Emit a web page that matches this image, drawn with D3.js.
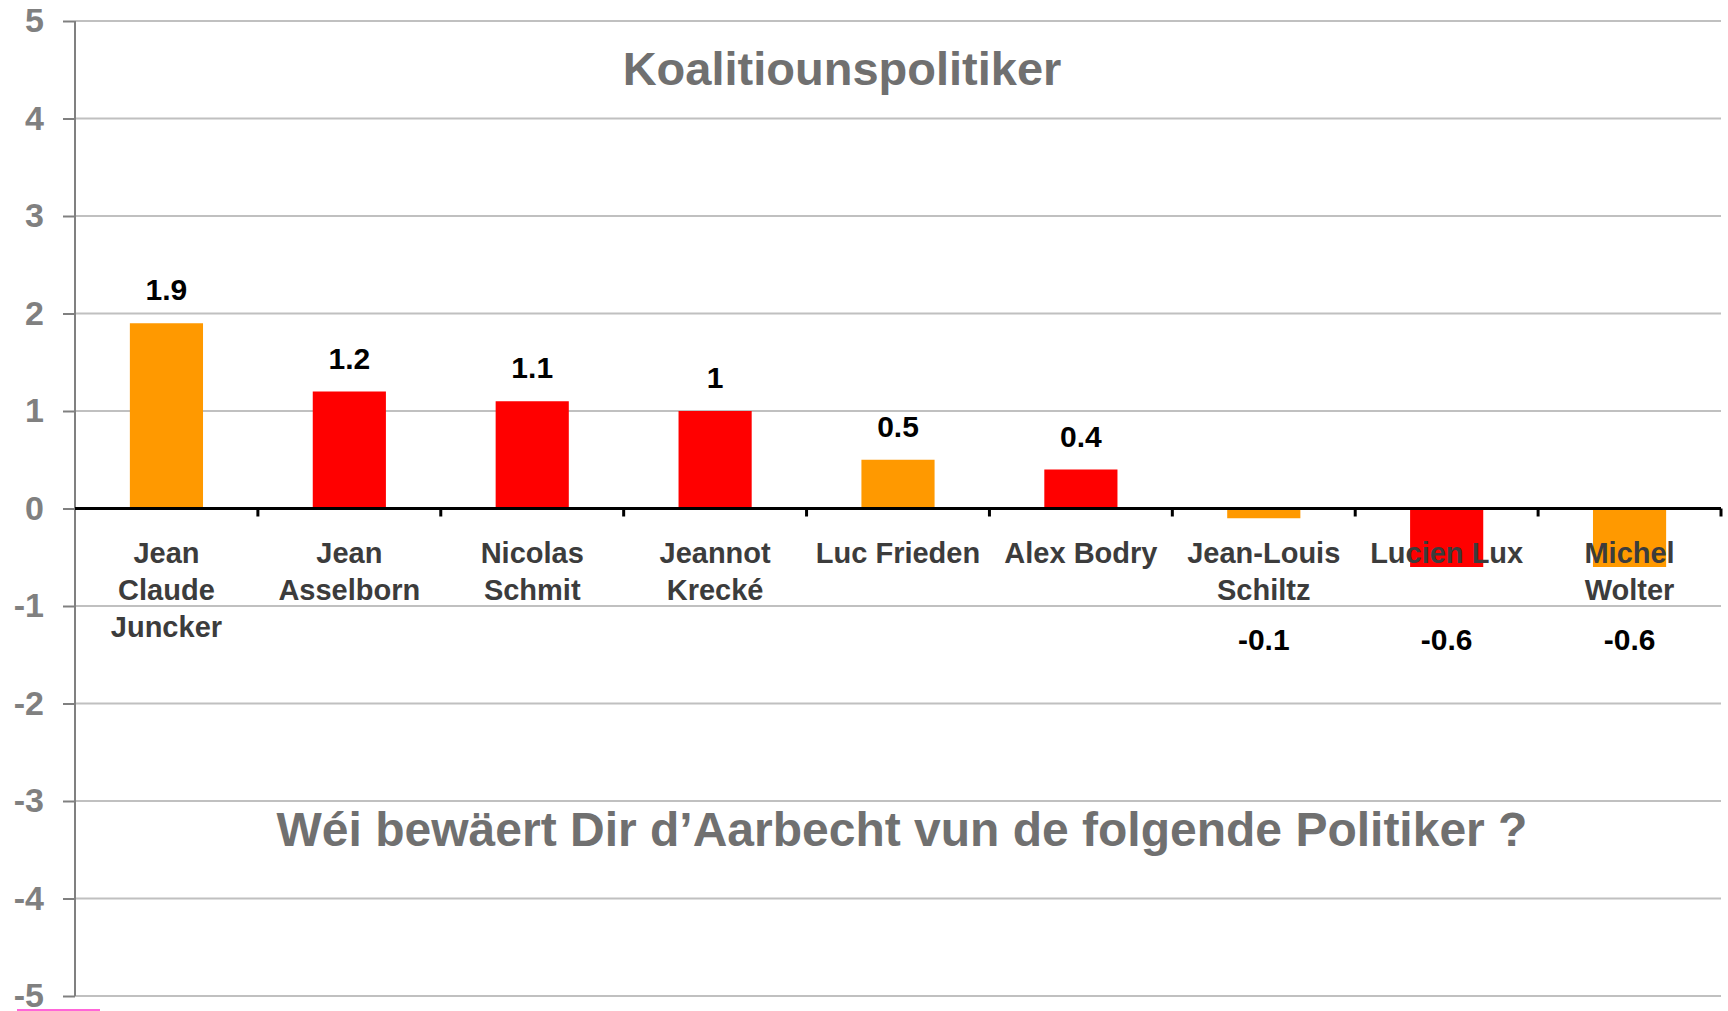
<!DOCTYPE html>
<html>
<head>
<meta charset="utf-8">
<script src="https://cdn.jsdelivr.net/npm/d3@7"></script>
<style>
  html, body { margin: 0; padding: 0; background: #fff; }
  svg { display: block; }
  text { font-family: "Liberation Sans", Arial, sans-serif; font-weight: bold; }
</style>
</head>
<body>
<div id="chart"></div>
<script>
// politicians, one entry per bar (label lines)
var names = [
    ["Jean", "Claude", "Juncker"],
    ["Jean", "Asselborn"],
    ["Nicolas", "Schmit"],
    ["Jeannot", "Krecké"],
    ["Luc Frieden"],
    ["Alex Bodry"],
    ["Jean-Louis", "Schiltz"],
    ["Lucien Lux"],
    ["Michel", "Wolter"]
];
var scores = [1.9, 1.2, 1.1, 1, 0.5, 0.4, -0.1, -0.6, -0.6];
var parties = ["CSV", "LSAP", "LSAP", "LSAP", "CSV", "LSAP", "CSV", "LSAP", "CSV"];
var yTicks = [-5, -4, -3, -2, -1, 0, 1, 2, 3, 4, 5];

var title = "Koalitiounspolitiker";
var question = "Wéi bewäert Dir d\u2019Aarbecht vun de folgende Politiker ?";

var width = 1728, height = 1011;
var plotLeft = 75, plotRight = 1721, plotTop = 21, plotBottom = 996;

var svg = d3.select('#chart')
    .append('svg')
    .attr('width', width)
    .attr('height', height);

var x = d3.scaleBand()
    .domain(d3.range(scores.length))
    .range([plotLeft, plotRight])
    .padding(0);

var y = d3.scaleLinear()
    .domain([-5, 5])
    .range([plotBottom, plotTop]);

var color = d3.scaleOrdinal()
    .domain(["CSV", "LSAP"])
    .range(["#ff9900", "#ff0000"]);

// grid lines
svg.append('g')
    .selectAll('line')
    .data(yTicks)
    .enter().append('line')
    .attr('x1', plotLeft)
    .attr('x2', plotRight)
    .attr('y1', function (d) { return y(d); })
    .attr('y2', function (d) { return y(d); })
    .style('stroke', '#c0c0c0')
    .style('stroke-width', 2);

// y axis (plain hyphen for negatives, like the original)
var yAxis = svg.append('g')
    .attr('transform', 'translate(' + plotLeft + ',0)')
    .call(d3.axisLeft(y).tickValues(yTicks).tickSize(12).tickPadding(19)
        .tickFormat(function (d) { return String(d); }));
yAxis.select('.domain').remove();
yAxis.selectAll('.tick line').style('stroke', '#808080').style('stroke-width', 2);
yAxis.selectAll('.tick text')
    .attr('fill', '#808080')
    .style('font-size', '34px')
    .style('font-family', '"Liberation Sans", Arial, sans-serif')
    .style('font-weight', 'bold');
svg.append('line')
    .attr('x1', plotLeft).attr('x2', plotLeft)
    .attr('y1', y(5)).attr('y2', y(-5))
    .style('stroke', '#808080')
    .style('stroke-width', 2);

// bars
var barW = x.bandwidth() * 0.4;
svg.append('g')
    .selectAll('rect')
    .data(scores)
    .enter().append('rect')
    .attr('x', function (d, i) { return x(i) + (x.bandwidth() - barW) / 2; })
    .attr('width', barW)
    .attr('y', function (d) { return y(Math.max(d, 0)); })
    .attr('height', function (d) { return Math.abs(y(d) - y(0)); })
    .style('fill', function (d, i) { return color(parties[i]); });

// zero axis with category ticks
var xAxis = svg.append('g')
    .attr('transform', 'translate(0,' + y(0) + ')');
xAxis.append('line')
    .attr('x1', plotLeft).attr('x2', plotRight)
    .style('stroke', '#000')
    .style('stroke-width', 3);
xAxis.selectAll('line.tick')
    .data(d3.range(1, scores.length + 1))
    .enter().append('line')
    .attr('class', 'tick')
    .attr('x1', function (d) { return plotLeft + d * x.bandwidth(); })
    .attr('x2', function (d) { return plotLeft + d * x.bandwidth(); })
    .attr('y1', 0)
    .attr('y2', 8)
    .style('stroke', '#000')
    .style('stroke-width', 3);

// category labels
var cat = svg.append('g')
    .selectAll('text')
    .data(names)
    .enter().append('text')
    .attr('text-anchor', 'middle')
    .attr('fill', '#3c3c3c')
    .style('font-size', '29px')
    .attr('y', y(0) + 54);
cat.selectAll('tspan')
    .data(function (d, i) { return d.map(function (s) { return {s: s, i: i}; }); })
    .enter().append('tspan')
    .attr('x', function (d) { return x(d.i) + x.bandwidth() / 2; })
    .attr('dy', function (d, j) { return j ? 37 : 0; })
    .text(function (d) { return d.s; });

// value labels
svg.append('g')
    .selectAll('text')
    .data(scores)
    .enter().append('text')
    .attr('text-anchor', 'middle')
    .attr('fill', '#000')
    .style('font-size', '30px')
    .attr('x', function (d, i) { return x(i) + x.bandwidth() / 2; })
    .attr('y', function (d) { return d >= 0 ? y(d) - 23 : y(-1.45); })
    .text(function (d) { return String(d); });

// titles
svg.append('text')
    .attr('x', 842)
    .attr('y', 85)
    .attr('text-anchor', 'middle')
    .attr('fill', '#707070')
    .style('font-size', '47px')
    .text(title);

svg.append('text')
    .attr('x', 902)
    .attr('y', 846)
    .attr('text-anchor', 'middle')
    .attr('fill', '#707070')
    .style('font-size', '48px')
    .text(question);

// stray pink underline at the bottom left
svg.append('line')
    .attr('x1', 17).attr('x2', 100)
    .attr('y1', 1010).attr('y2', 1010)
    .style('stroke', '#ff33cc')
    .style('stroke-width', 1.5);
</script>
</body>
</html>
